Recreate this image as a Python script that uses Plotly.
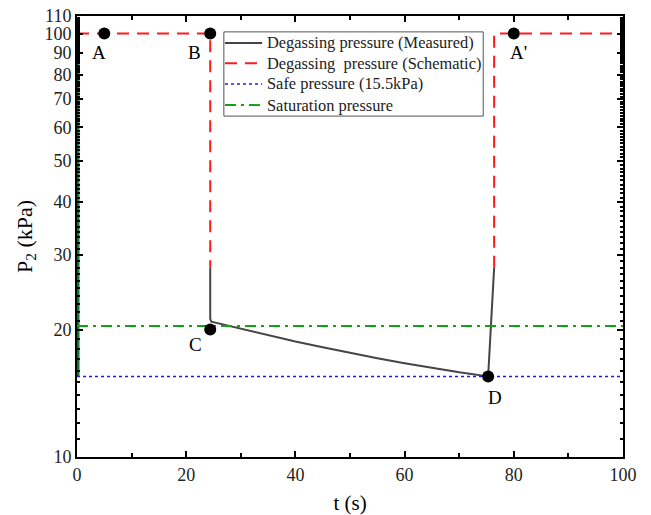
import math
import plotly.graph_objects as go

# Measured degassing pressure (t in s, P2 in kPa)
meas_t = [24.4, 24.4, 24.6, 30.0, 35.0, 40.0, 45.0, 50.0, 55.0, 60.0, 65.0, 70.0, 75.3, 76.2, 76.4]
meas_p = [28.0, 21.2, 20.87, 20.07, 19.38, 18.74, 18.16, 17.61, 17.11, 16.65, 16.23, 15.85, 15.5, 25.3, 28.0]

# Schematic degassing pressure (None splits the two branches)
sch_t = [0.0, 24.4, 24.4, None, 76.4, 76.4, 100.0]
sch_p = [100.0, 100.0, 28.0, None, 28.0, 100.0, 100.0]

# Reference levels
safe_p = 15.5
sat_p = 20.4
t_span = [0.0, 100.0]

# Start-up trace along t = 0
start_t = [0.0, 0.0]
start_p = [15.5, 100.0]

# Key states
state_names = ["A", "B", "C", "D", "A'"]
state_t = [5.0, 24.4, 24.4, 75.3, 80.0]
state_p = [100.0, 100.0, 20.0, 15.5, 100.0]
label_shift = [(-5, -19), (-16, -19), (-15, -15), (7, -21), (5, -19)]

y_major = [10, 20, 30, 40, 50, 60, 70, 80, 90, 100, 110]
y_minor = [v for v in range(11, 110) if v % 10 != 0]

serif = "Liberation Serif"

styles = {
    "meas": dict(color="#454545", width=2),
    "sch": dict(color="#ff1a1a", width=2, dash="12px,8px"),
    "safe": dict(color="#1a1aff", width=1.5, dash="dot"),
    "sat": dict(color="#16a016", width=2, dash="11px,5px,3px,5px"),
}
legend_names = [
    ("meas", "Degassing pressure (Measured)"),
    ("sch", "Degassing  pressure (Schematic)"),
    ("safe", "Safe pressure (15.5kPa)"),
    ("sat", "Saturation pressure"),
]

fig = go.Figure()

fig.add_trace(go.Scatter(
    x=start_t, y=start_p, mode="lines",
    line=dict(color="#0a7a2a", width=5), showlegend=False, hoverinfo="skip"))

fig.add_trace(go.Scatter(
    x=meas_t, y=meas_p, mode="lines", name=legend_names[0][1],
    line=styles["meas"], showlegend=False))

fig.add_trace(go.Scatter(
    x=sch_t, y=sch_p, mode="lines", name=legend_names[1][1],
    line=styles["sch"], connectgaps=False, showlegend=False))

fig.add_trace(go.Scatter(
    x=t_span, y=[safe_p, safe_p], mode="lines", name=legend_names[2][1],
    line=styles["safe"], showlegend=False))

fig.add_trace(go.Scatter(
    x=t_span, y=[sat_p, sat_p], mode="lines", name=legend_names[3][1],
    line=styles["sat"], showlegend=False))

fig.add_trace(go.Scatter(
    x=state_t, y=state_p, mode="markers",
    marker=dict(color="black", size=12), showlegend=False, hoverinfo="skip",
    cliponaxis=False))

# State labels (annotation y on a log axis is given as log10)
for name, t, p, (dx, dy) in zip(state_names, state_t, state_p, label_shift):
    fig.add_annotation(x=t, y=math.log10(p), xref="x", yref="y", text=name,
                       showarrow=False, xshift=dx, yshift=dy,
                       font=dict(family=serif, size=19, color="black"))

# Boxed legend in the upper middle of the plot area
box_x0, box_x1, box_y0, box_y1 = 0.269, 0.744, 0.773, 0.964
sample_x0, sample_x1, text_x = 0.271, 0.339, 0.344
row_y = [0.939, 0.893, 0.846, 0.798]
fig.add_shape(type="rect", xref="paper", yref="paper",
              x0=box_x0, x1=box_x1, y0=box_y0, y1=box_y1,
              line=dict(color="#555", width=1), fillcolor="white", layer="above")
for (key, label), ry in zip(legend_names, row_y):
    fig.add_shape(type="line", xref="paper", yref="paper",
                  x0=sample_x0, x1=sample_x1, y0=ry, y1=ry,
                  line=styles[key], layer="above")
    fig.add_annotation(x=text_x, y=ry, xref="paper", yref="paper", text=label,
                       showarrow=False, xanchor="left", yanchor="middle",
                       font=dict(family=serif, size=16.4, color="#222"))

axis_common = dict(
    showline=True, linecolor="black", linewidth=2, mirror="allticks",
    ticks="inside", ticklen=6, tickwidth=2, tickcolor="black",
    showgrid=False, zeroline=False, automargin=False,
    tickfont=dict(family=serif, size=18, color="#222"),
)

fig.update_xaxes(
    range=[0, 100], tickvals=[0, 20, 40, 60, 80, 100],
    minor=dict(tickvals=[10, 30, 50, 70, 90], ticks="inside", ticklen=4,
               tickwidth=2, tickcolor="black"),
    title=dict(text="t (s)", font=dict(family=serif, size=21, color="black"),
               standoff=12),
    **axis_common)

fig.update_yaxes(
    type="log", range=[1, math.log10(110)], tickvals=y_major,
    ticktext=[str(v) for v in y_major],
    minor=dict(tickvals=y_minor, ticks="inside", ticklen=3,
               tickwidth=1.5, tickcolor="black"),
    title=dict(text="P<sub>2</sub> (kPa)",
               font=dict(family=serif, size=22, color="black"), standoff=6),
    **axis_common)

fig.update_layout(
    width=651, height=515,
    margin=dict(l=77, r=28, t=16, b=58),
    paper_bgcolor="white", plot_bgcolor="white",
    showlegend=False,
)

fig.write_html("out.html")
